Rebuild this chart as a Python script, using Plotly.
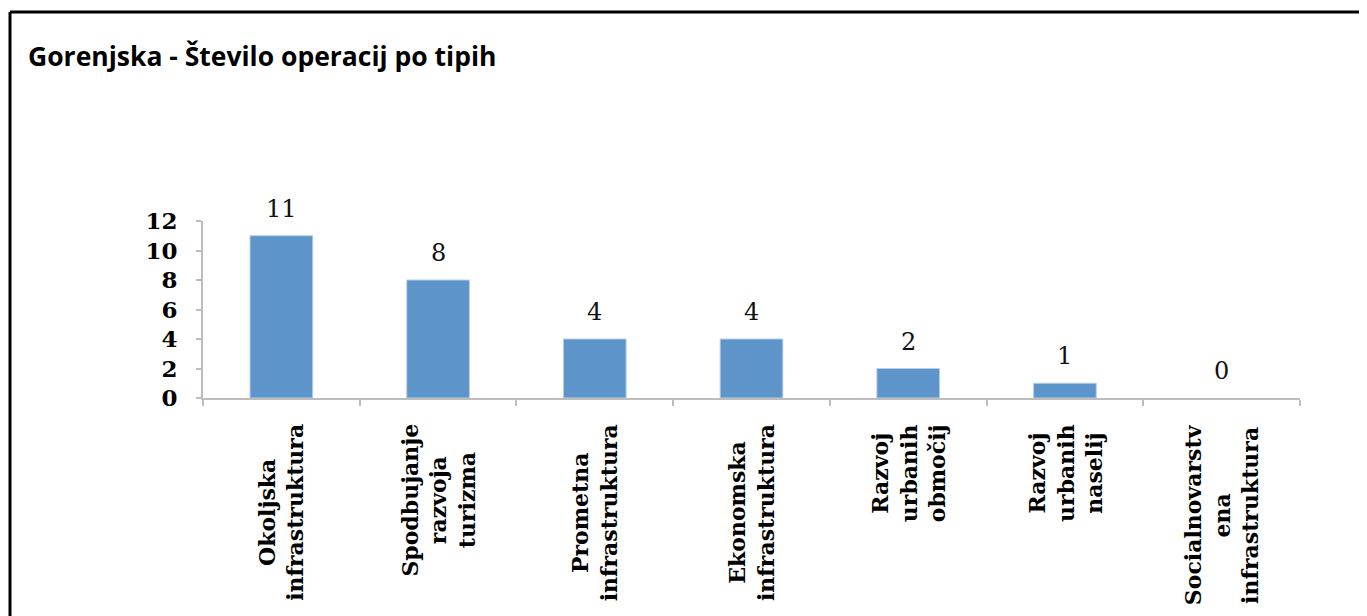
import plotly.graph_objects as go

categories = [
    "Okoljska<br>infrastruktura",
    "Spodbujanje<br>razvoja<br>turizma",
    "Prometna<br>infrastruktura",
    "Ekonomska<br>infrastruktura",
    "Razvoj<br>urbanih<br>območij",
    "Razvoj<br>urbanih<br>naselij",
    "Socialnovarstv<br>ena<br>infrastruktura",
]
values = [11, 8, 4, 4, 2, 1, 0]
y_ticks = [0, 2, 4, 6, 8, 10, 12]
title_text = "Gorenjska - Število operacij po tipih"

OFF = 8  # page body margin
W, H = 1367 - OFF, 616 - OFF
# target screen positions of plot area
sx0, sx1, sy0, sy1 = 203, 1300, 221, 398
L, T = sx0 - OFF, sy0 - OFF
R, B = W - (sx1 - OFF), H - (sy1 - OFF)
pw, ph = sx1 - sx0, sy1 - sy0

fig = go.Figure()
fig.add_trace(go.Bar(
    x=categories, y=values,
    marker=dict(color="#5D95CA",
                line=dict(color="#B7CEE6", width=[1 if v > 0 else 0 for v in values])),
    hoverinfo="x+y",
))

for c, v in zip(categories, values):
    fig.add_annotation(
        x=c, xref="x", y=v, yref="y", text=str(v), showarrow=False,
        xanchor="center", yanchor="bottom", yshift=11,
        font=dict(family="DejaVu Serif", size=24, color="#111111"),
    )
    fig.add_annotation(
        x=c, xref="x", y=-24 / ph, yref="paper",
        text=c, textangle=-90, showarrow=False,
        xanchor="center", yanchor="top", align="center",
        font=dict(family="DejaVu Serif", size=22, color="#000000", weight="bold"),
    )

# outer frame (top and left visible)
fx = (10 - sx0) / pw
fy = 1 + (sy0 - 12) / ph
fig.add_shape(type="line", xref="paper", yref="paper", x0=fx, x1=1.3, y0=fy, y1=fy,
              line=dict(color="#000000", width=3))
fig.add_shape(type="line", xref="paper", yref="paper", x0=fx, x1=fx, y0=fy, y1=-1.5,
              line=dict(color="#000000", width=3))

fig.update_layout(
    width=W, height=H,
    margin=dict(l=L, r=R, t=T, b=B),
    paper_bgcolor="white", plot_bgcolor="white",
    bargap=0.6,
    showlegend=False,
    title=dict(text=title_text, x=(28 - OFF) / W, xanchor="left",
               y=1 - (57 - OFF) / H, yanchor="middle",
               font=dict(family="Open Sans", size=26.5, color="#000000", weight="bold")),
    xaxis=dict(showticklabels=False, showline=True, linecolor="#BDBDBD", linewidth=2,
               ticks="outside", tickson="boundaries", ticklen=6, tickcolor="#BDBDBD",
               tickwidth=2, showgrid=False, zeroline=False),
    yaxis=dict(range=[0, 12], tickvals=y_ticks, showline=True, linecolor="#BDBDBD",
               linewidth=2, ticks="outside", ticklen=5, tickcolor="#BDBDBD", tickwidth=2,
               ticklabelstandoff=14,
               showgrid=False, zeroline=False,
               tickfont=dict(family="DejaVu Serif", size=23, color="#000000", weight="bold")),
)

fig.write_html("out.html")
